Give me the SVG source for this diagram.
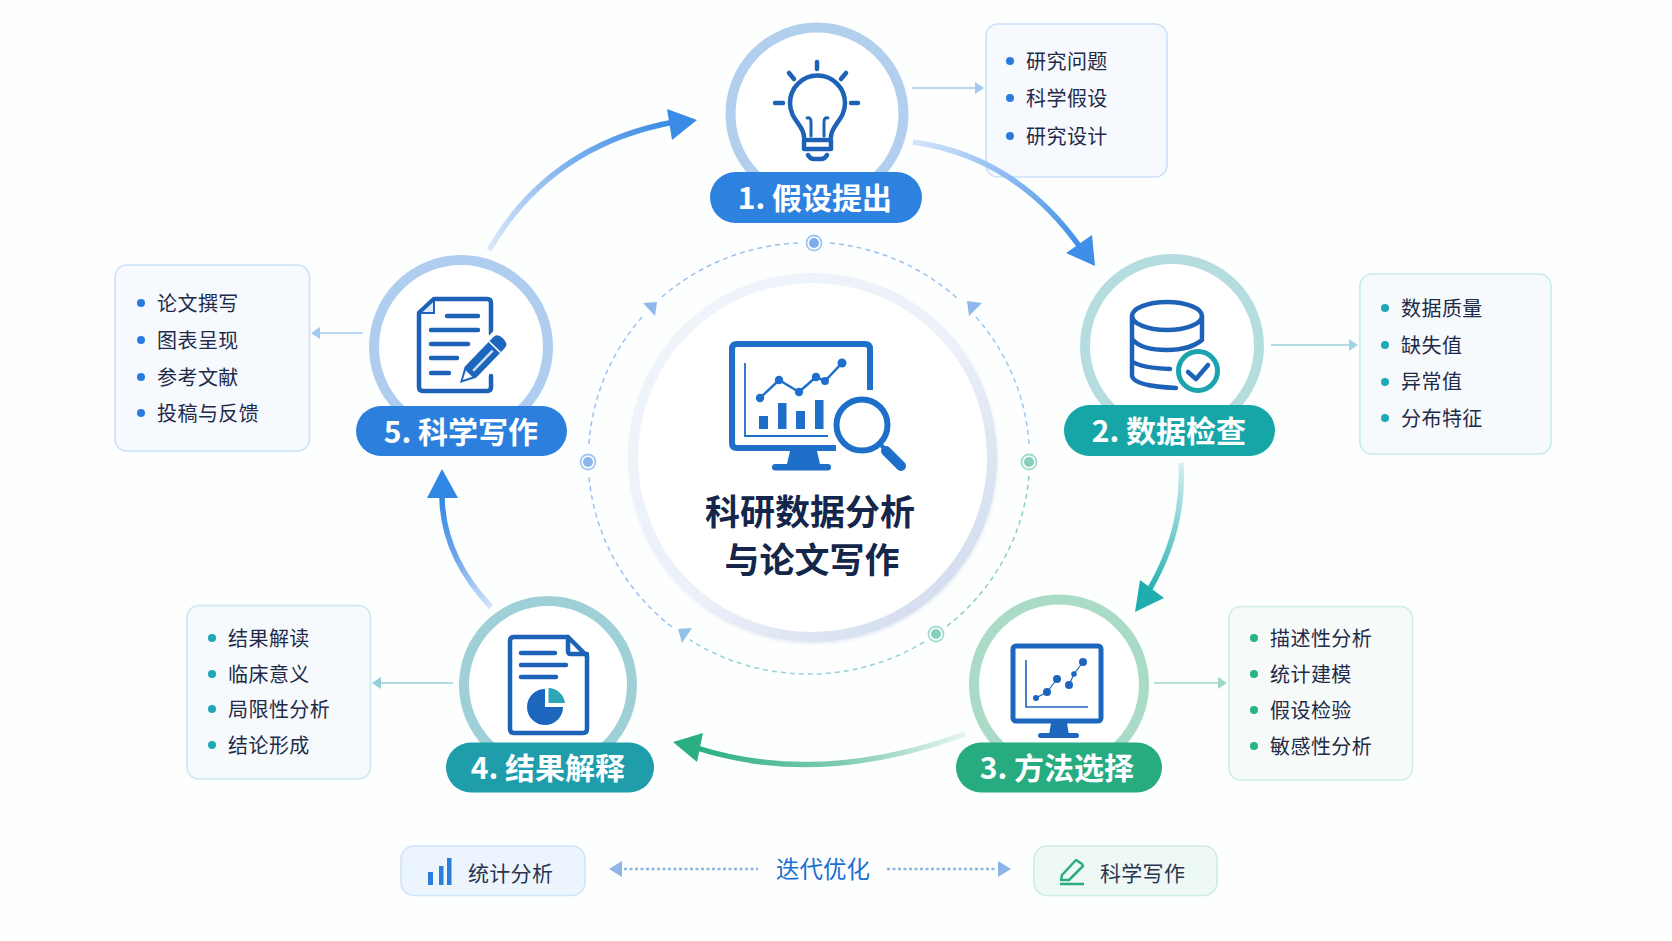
<svg xmlns="http://www.w3.org/2000/svg" width="1672" height="941" viewBox="0 0 1672 941">
<style>
text{font-family:"Noto Sans CJK SC","Noto Sans",sans-serif}
.ring{fill:#fff;stroke-width:10}
.pilltxt{font-size:30px;font-weight:700;fill:#fff;text-anchor:middle}
.li{font-size:20px;letter-spacing:.45px;fill:#1e2a48}
.box{stroke-width:1.6}
.bl{fill:#f6f9fe;stroke:#cbe1f8}
.tl{fill:#f6fafc;stroke:#cbe9ed}
.gr{fill:#f6fbfa;stroke:#cfeee3}
.ico{fill:none;stroke:#1d62b6;stroke-width:4.5;stroke-linecap:round;stroke-linejoin:round}
.fil{fill:#1d66bd}
.thin{fill:none;stroke-width:2}
.dash{fill:none;stroke-width:1.5;stroke-dasharray:5 4}
.title{font-size:35px;font-weight:700;fill:#14264a;text-anchor:middle}
.big{fill:none;stroke-width:5.5}
.dot{stroke-width:1.8;fill:#fff}
</style>
<defs>
<linearGradient id="gr12" gradientUnits="userSpaceOnUse" x1="913" y1="142" x2="1085" y2="250"><stop offset="0" stop-color="#d6e5fc"/><stop offset="1" stop-color="#3c8ce6"/></linearGradient>
<linearGradient id="gr23" gradientUnits="userSpaceOnUse" x1="1181" y1="463" x2="1145" y2="595"><stop offset="0" stop-color="#d5eff0"/><stop offset="1" stop-color="#1fadb0"/></linearGradient>
<linearGradient id="gr34" gradientUnits="userSpaceOnUse" x1="965" y1="734" x2="697" y2="747"><stop offset="0" stop-color="#e6f5f3"/><stop offset=".45" stop-color="#82cdb4"/><stop offset="1" stop-color="#2bae84"/></linearGradient>
<linearGradient id="gr45" gradientUnits="userSpaceOnUse" x1="491" y1="607" x2="442" y2="495"><stop offset="0" stop-color="#d3e4fb"/><stop offset=".5" stop-color="#6ba6ea"/><stop offset="1" stop-color="#3187e4"/></linearGradient>
<linearGradient id="gr51" gradientUnits="userSpaceOnUse" x1="489" y1="250" x2="672" y2="122"><stop offset="0" stop-color="#dbe9fc"/><stop offset=".5" stop-color="#7fb2ee"/><stop offset="1" stop-color="#3a8be5"/></linearGradient>
<linearGradient id="cring" x1="0" y1="0" x2="1" y2="1"><stop offset="0" stop-color="#f1f5fb"/><stop offset=".55" stop-color="#ebf0f9"/><stop offset="1" stop-color="#cbd7ea"/></linearGradient>
<filter id="soft" x="-10%" y="-10%" width="120%" height="120%"><feDropShadow dx="1" dy="2" stdDeviation="1.5" flood-color="#b9c6dd" flood-opacity=".3"/></filter>
</defs>
<rect width="1672" height="941" fill="#fdfefe"/>

<g id="inner-cycle">
<path class="dash" stroke="#9cc1f0" d="M830 243A220 216 0 0 1 958 299"/>
<path class="dash" stroke="#9cc8ec" d="M976 317A220 216 0 0 1 1029 444"/>
<path class="dash" stroke="#8ad1bf" d="M1029 476A220 216 0 0 1 946 627"/>
<path class="dash" stroke="#95d2d9" d="M924 642A220 216 0 0 1 690 640"/>
<path class="dash" stroke="#9cc1f0" d="M672 627A220 216 0 0 1 589 476"/>
<path class="dash" stroke="#9cc1f0" d="M589 444A220 216 0 0 1 643 316"/>
<path class="dash" stroke="#9cc1f0" d="M662 297A220 216 0 0 1 798 243"/>
<polygon fill="#8fb8ea" points="643,303 657,302 655,316"/>
<polygon fill="#8fb8ea" points="967,301 982,303 969,316"/>
<polygon fill="#93c2e8" points="678,629 692,628 682,643"/>
<circle class="dot" cx="814" cy="243" r="7.5" stroke="#a3c6f3"/><circle cx="814" cy="243" r="5" fill="#7cabec"/>
<circle class="dot" cx="588" cy="462" r="7.5" stroke="#a3c6f3"/><circle cx="588" cy="462" r="5" fill="#8db6ec"/>
<circle class="dot" cx="1029" cy="462" r="7.5" stroke="#9fdccd"/><circle cx="1029" cy="462" r="5" fill="#85cfbd"/>
<circle class="dot" cx="936" cy="634" r="7.5" stroke="#9fdccd"/><circle cx="936" cy="634" r="5" fill="#85cfbd"/>
</g>

<g id="center">
<circle cx="812.5" cy="457.5" r="179.5" fill="#fff" stroke="url(#cring)" stroke-width="10" filter="url(#soft)"/>
<path fill="none" stroke="#1d6fc9" stroke-width="6" stroke-linecap="butt" d="M870 390V349Q870 344 865 344H737Q732 344 732 349V443Q732 448 737 448H836"/>
<polygon fill="#1d6fc9" points="790,451 817,451 820,464 787,464"/>
<rect x="772" y="464" width="59" height="6.5" rx="3.2" fill="#1d6fc9"/>
<path fill="none" stroke="#1d6fc9" stroke-width="1.8" d="M745 363V436H828"/>
<polyline fill="none" stroke="#1d6fc9" stroke-width="2.5" points="760,398 779,380 799,392 816,377 825,381 842,363"/>
<g fill="#1d6fc9">
<circle cx="760" cy="398" r="4.2"/><circle cx="779" cy="380" r="4.2"/><circle cx="799" cy="392" r="4.2"/><circle cx="816" cy="377" r="4.2"/><circle cx="825" cy="381" r="4"/><circle cx="842" cy="363" r="4.5"/>
<rect x="759" y="416" width="9" height="13"/><rect x="778" y="403" width="8.5" height="26"/><rect x="796" y="411" width="9" height="18"/><rect x="815" y="400" width="8.5" height="29"/>
</g>
<circle cx="862" cy="425" r="25.5" fill="#fff" stroke="#1d6fc9" stroke-width="6"/>
<path stroke="#1d6fc9" stroke-width="4" d="M880 444L886 450"/>
<path stroke="#1d6fc9" stroke-width="10" stroke-linecap="round" d="M886 451L901 466"/>
<text class="title" x="810" y="525">科研数据分析</text>
<text class="title" x="812" y="573">与论文写作</text>
</g>

<g id="connectors">
<path class="thin" stroke="#b9d6f3" d="M912 88H976"/><polygon fill="#a4c9f0" points="984,88 975,82 975,94"/>
<path class="thin" stroke="#b3dce2" d="M1271 345H1350"/><polygon fill="#a4d5de" points="1358,345 1349,339 1349,351"/>
<path class="thin" stroke="#b5e2d3" d="M1154 683H1219"/><polygon fill="#9ed9c5" points="1227,683 1218,677 1218,689"/>
<path class="thin" stroke="#b3dde3" d="M453 683H380"/><polygon fill="#93cfd9" points="372,683 381,677 381,689"/>
<path class="thin" stroke="#bcd7f5" d="M363 333H319"/><polygon fill="#a4c9f0" points="311,333 320,327 320,339"/>
</g>

<g id="node-1">
<circle class="ring" cx="817" cy="114" r="86.5" stroke="#b2cfee"/>
<g class="ico">
<path d="M804 137C804 125 790 120 790 103A27.5 27.5 0 0 1 845 103C845 120 831 125 831 137"/>
<path stroke-width="3" d="M811 136V122Q811 117 807 118M824 136V122Q824 117 828 118"/>
<path d="M804 140H831M804 149H831M804 140V149M831 140V149M808 155Q810 159 814 159H821Q825 159 827 155"/>
<path d="M817 62V69M789 73L794 79M846 73L841 79M775 103H783M851 103H858"/>
</g>
<rect x="710" y="172" width="212" height="51" rx="25.5" fill="#2e82df"/>
<text class="pilltxt" x="815" y="209">1. 假设提出</text>
</g>
<g id="list-1">
<rect class="box bl" x="986" y="24" width="181" height="153" rx="12"/>
<g fill="#2a7be0"><circle cx="1010" cy="61" r="4"/><circle cx="1010" cy="98" r="4"/><circle cx="1010" cy="136" r="4"/></g>
<text class="li" x="1026" y="69">研究问题</text><text class="li" x="1026" y="106">科学假设</text><text class="li" x="1026" y="144">研究设计</text>
</g>

<g id="node-2">
<circle class="ring" cx="1172" cy="346" r="87" stroke="#b5dde0"/>
<g class="ico">
<ellipse cx="1167" cy="316" rx="35" ry="14"/>
<path d="M1132 316V376Q1134 386 1176 388M1202 316V338M1133 340Q1142 350 1167 350Q1190 350 1202 340M1133 362Q1142 368 1170 369"/>
</g>
<circle cx="1198" cy="371" r="19.5" fill="#fff" stroke="#1ba4ae" stroke-width="5"/>
<polyline fill="none" stroke="#1d62b6" stroke-width="4.5" stroke-linecap="round" stroke-linejoin="round" points="1188,372 1196,379 1208,365"/>
<rect x="1064" y="405" width="211" height="51" rx="25.5" fill="#17a6a8"/>
<text class="pilltxt" x="1169" y="442">2. 数据检查</text>
</g>
<g id="list-2">
<rect class="box tl" x="1360" y="274" width="191" height="180" rx="12"/>
<g fill="#1fa8b5"><circle cx="1385" cy="308" r="4"/><circle cx="1385" cy="345" r="4"/><circle cx="1385" cy="382" r="4"/><circle cx="1385" cy="418" r="4"/></g>
<text class="li" x="1401" y="316">数据质量</text><text class="li" x="1401" y="352.5">缺失值</text><text class="li" x="1401" y="389">异常值</text><text class="li" x="1401" y="425.5">分布特征</text>
</g>

<g id="node-3">
<circle class="ring" cx="1059" cy="684.5" r="85" stroke="#a9dbc6"/>
<rect x="1013" y="646" width="88" height="75" rx="3" fill="#fff" stroke="#1d66bd" stroke-width="5"/>
<polygon class="fil" points="1051,723 1067,723 1069,735 1049,735"/>
<rect x="1038" y="733" width="41" height="5" rx="2.5" class="fil"/>
<path fill="none" stroke="#1d66bd" stroke-width="1.6" d="M1026 660V707H1088"/>
<path fill="none" stroke="#1d66bd" stroke-width="1.2" d="M1036 698L1047 692L1057 679M1069 685L1074 674L1083 662"/>
<g class="fil"><circle cx="1036" cy="698" r="3"/><circle cx="1047" cy="692" r="4"/><circle cx="1057" cy="679" r="4"/><circle cx="1069" cy="685" r="4"/><circle cx="1074" cy="674" r="2.8"/><circle cx="1083" cy="662" r="4"/></g>
<rect x="956" y="742.5" width="206" height="50" rx="25" fill="#27ab80"/>
<text class="pilltxt" x="1057" y="779">3. 方法选择</text>
</g>
<g id="list-3">
<rect class="box gr" x="1229" y="606.5" width="183.5" height="173.5" rx="12"/>
<g fill="#2bb388"><circle cx="1254" cy="638" r="4"/><circle cx="1254" cy="674" r="4"/><circle cx="1254" cy="710" r="4"/><circle cx="1254" cy="746" r="4"/></g>
<text class="li" x="1270" y="646">描述性分析</text><text class="li" x="1270" y="682">统计建模</text><text class="li" x="1270" y="718">假设检验</text><text class="li" x="1270" y="754">敏感性分析</text>
</g>

<g id="node-4">
<circle class="ring" cx="548" cy="685" r="84" stroke="#9fd0d8"/>
<path class="ico" d="M568 637H514Q510 637 510 641V729Q510 733 514 733H583Q587 733 587 729V656L568 637V651Q568 654 571 654H587"/>
<path class="ico" stroke-width="3" d="M521 653H555M521 665H566M521 677H556"/>
<path class="fil" d="M545 707V689A18 18 0 1 0 563 707Z"/>
<path fill="#2ba7b5" d="M548.5 703V688A17 17 0 0 1 565 703Z"/>
<rect x="446" y="742.5" width="208" height="50" rx="25" fill="#1f9dab"/>
<text class="pilltxt" x="548" y="779">4. 结果解释</text>
</g>
<g id="list-4">
<rect class="box tl" x="187" y="605.5" width="183.5" height="173.5" rx="12"/>
<g fill="#1fa8b5"><circle cx="212" cy="638" r="4"/><circle cx="212" cy="674" r="4"/><circle cx="212" cy="709" r="4"/><circle cx="212" cy="745" r="4"/></g>
<text class="li" x="228" y="646">结果解读</text><text class="li" x="228" y="682">临床意义</text><text class="li" x="228" y="717">局限性分析</text><text class="li" x="228" y="753">结论形成</text>
</g>

<g id="node-5">
<circle class="ring" cx="461" cy="347" r="87" stroke="#afcdef"/>
<path class="ico" d="M491 334V303Q491 299 487 299H434L419 313V387Q419 391 423 391H487Q491 391 491 387V376"/>
<path fill="#dce9f8" stroke="#1d62b6" stroke-width="2" d="M434 300L420 313H434Z"/>
<path class="ico" stroke-width="3.5" d="M447 316H478M431 330H478M431 344H468M431 358H457M431 373H449"/>
<g transform="translate(460 383) rotate(-46)">
<path fill="#fff" d="M0 0L14 -12H62Q70 -12 70 0Q70 12 62 12H14Z"/>
<path class="fil" d="M0 0L15 -8H56Q62 -8 62 0Q62 8 56 8H15Z"/>
<path fill="#fff" d="M4 0L13 -4.5V4.5Z"/>
<path stroke="#cfe1f6" stroke-width="2.5" d="M18 1H46"/>
<path stroke="#fff" stroke-width="1.5" d="M50 -8V8"/>
</g>
<rect x="356" y="406" width="211" height="50" rx="25" fill="#2c7fdc"/>
<text class="pilltxt" x="461" y="443">5. 科学写作</text>
</g>
<g id="list-5">
<rect class="box bl" x="115" y="265" width="194.500" height="186" rx="12"/>
<g fill="#2a7be0"><circle cx="141" cy="303" r="4"/><circle cx="141" cy="340" r="4"/><circle cx="141" cy="377" r="4"/><circle cx="141" cy="413" r="4"/></g>
<text class="li" x="157" y="311">论文撰写</text><text class="li" x="157" y="348">图表呈现</text><text class="li" x="157" y="384.500">参考文献</text><text class="li" x="157" y="420.500">投稿与反馈</text>
</g>

<g id="flow-arrows">
<path class="big" stroke="url(#gr12)" d="M913 142Q1015 156 1080 247"/>
<polygon fill="#3f8ee7" points="1095,266 1092,235 1066,253"/>
<path class="big" stroke="url(#gr23)" d="M1181 463Q1185 530 1148 592"/>
<polygon fill="#1fadb0" points="1135,612 1164,598 1140,580"/>
<path class="big" stroke="url(#gr34)" d="M965 734Q820 787 697 748"/>
<polygon fill="#2bae84" points="673,742 703,733 697,762"/>
<path class="big" stroke="url(#gr45)" d="M491 607Q442 555 442 495"/>
<polygon fill="#3187e4" points="442,469 427,498 458,498"/>
<path class="big" stroke="url(#gr51)" d="M489 250Q550 145 674 122"/>
<polygon fill="#3a8be5" points="697,120 667,109 672,140"/>
</g>

<g id="legend">
<g id="legend-stats">
<rect x="401" y="846" width="184" height="49.500" rx="13" fill="#ecf4fd" stroke="#cfe4f9" stroke-width="1.6"/>
<g fill="#2a7fdc"><rect x="428" y="872" width="5" height="13"/><rect x="439" y="866" width="4.500" height="19"/><rect x="447" y="858" width="4.500" height="27"/></g>
<text x="468" y="881" font-size="21" fill="#2a3552" letter-spacing=".3">统计分析</text>
</g>
<g id="legend-iter">
<path fill="none" stroke="#8fb5e6" stroke-width="2.5" stroke-dasharray="3 2.500" d="M624 869H758M887 869H997"/>
<polygon fill="#8fb5e6" points="609,869 622,861 622,877"/>
<polygon fill="#8fb5e6" points="1011,869 998,861 998,877"/>
<text x="776" y="878" font-size="23.5" fill="#1a6fd4">迭代优化</text>
</g>
<g id="legend-write">
<rect x="1034" y="846" width="183" height="49.500" rx="13" fill="#eef8f5" stroke="#cfece2" stroke-width="1.6"/>
<path fill="none" stroke="#2bab86" stroke-width="2.500" stroke-linejoin="round" d="M1062 875L1076 860L1082 864L1083 866L1069 880L1061 880Z"/>
<path stroke="#2bab86" stroke-width="2.500" d="M1060 884H1084"/>
<text x="1100" y="881" font-size="21" fill="#2a3552" letter-spacing=".3">科学写作</text>
</g>
</g>
</svg>
